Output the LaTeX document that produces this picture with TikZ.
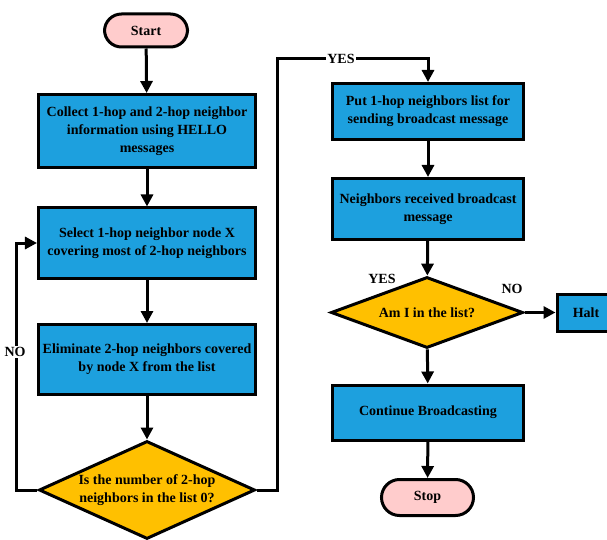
\documentclass[tikz,border=0pt]{standalone}
\usepackage{fontspec}
\setmainfont{Liberation Serif}
\usetikzlibrary{shapes.geometric,arrows.meta}
\definecolor{boxblue}{RGB}{29,160,222}
\definecolor{decgold}{RGB}{255,192,0}
\definecolor{termpink}{RGB}{255,204,204}
\tikzset{
  base/.style={draw=black, line width=3bp, align=center, inner sep=0pt,
    font=\fontsize{14bp}{18bp}\selectfont\bfseries},
  procbox/.style={base, rectangle, fill=boxblue},
  termbox/.style={base, rectangle, rounded corners=17bp, fill=termpink},
  decbox/.style={base, diamond, fill=decgold},
  flow/.style={line width=3bp, -{Triangle[length=12bp,width=12bp]}},
  lab/.style={font=\fontsize{14bp}{16bp}\selectfont\bfseries, fill=white, inner sep=1pt}
}
\begin{document}
\begin{tikzpicture}[x=1bp,y=-1bp]
\clip (0,0) rectangle (607,540);
\fill[white] (0,0) rectangle (607,540);
\node[termbox, minimum width=83bp, minimum height=33bp] (start) at (146,30.5) {Start};
\node[procbox, minimum width=217bp, minimum height=73bp] (b1) at (147,131) {Collect 1-hop and 2-hop neighbor\\information using HELLO\\messages};
\node[procbox, minimum width=217bp, minimum height=70bp] (b2) at (147,243) {Select 1-hop neighbor node X\\covering most of 2-hop neighbors};
\node[procbox, minimum width=217bp, minimum height=70bp] (b3) at (147,359.5) {Eliminate 2-hop neighbors covered\\by node X from the list};
\node[decbox, shape aspect=2.18, minimum width=216bp, minimum height=98bp] (d1) at (147,490) {Is the number of 2-hop\\neighbors in the list 0?};
\node[procbox, minimum width=191bp, minimum height=56bp] (b4) at (428,111.5) {Put 1-hop neighbors list for\\sending broadcast message};
\node[procbox, minimum width=191bp, minimum height=61bp] (b5) at (428,209) {Neighbors received broadcast\\message};
\node[decbox, shape aspect=2.66, minimum width=192bp, minimum height=71bp] (d2) at (427,312.5) {Am I in the list?};
\node[procbox, minimum width=58bp, minimum height=37bp] (halt) at (586,312.5) {Halt};
\node[procbox, minimum width=191bp, minimum height=55bp] (b6) at (428,412.5) {Continue Broadcasting};
\node[termbox, minimum width=92bp, minimum height=36bp, rounded corners=18bp] (stop) at (427.5,497.5) {Stop};
\coordinate (noc) at (16,352);
\coordinate (yesc) at (277,59);
\draw[flow] (start) -- (b1);
\draw[flow] (b1) -- (b2);
\draw[flow] (b2) -- (b3);
\draw[flow] (b3) -- (d1);
\draw[flow] (d1.west) -| (noc) |- (b2.west);
\draw[flow] (d1.east) -| (yesc) -| (b4.north);
\draw[flow] (b4) -- (b5);
\draw[flow] (b5) -- (d2);
\draw[flow] (d2.east) -- (halt.west);
\draw[flow] (d2) -- (b6);
\draw[flow] (b6) -- (stop);
\node[lab] (nolab) at (15,352) {NO};
\node[lab] (yeslab) at (341,59) {YES};
\node[lab, fill=none] (yes2) at (382,279) {YES};
\node[lab, fill=none] (no2) at (512,289) {NO};
\end{tikzpicture}
\end{document}
